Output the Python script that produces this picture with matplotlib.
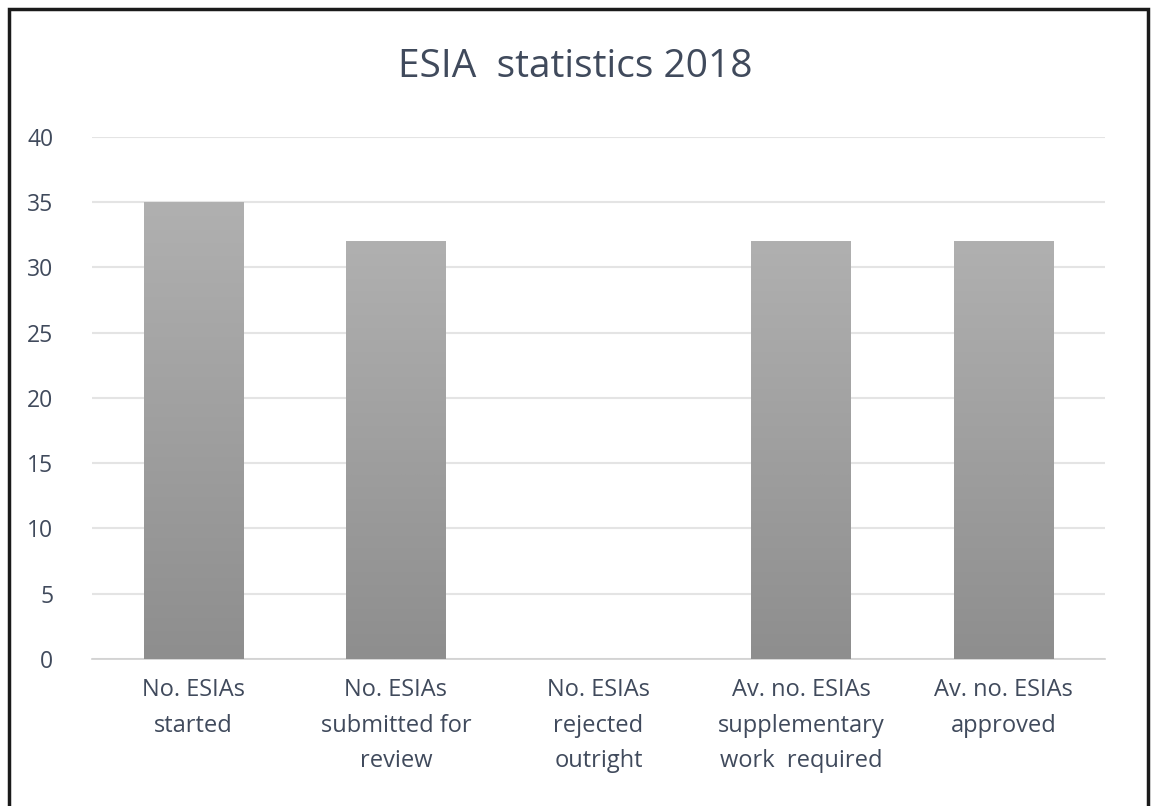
import matplotlib
matplotlib.use("Agg")
import matplotlib.pyplot as plt
import numpy as np
from matplotlib.patches import Rectangle
from matplotlib.colors import LinearSegmentedColormap

categories = ["No. ESIAs\nstarted", "No. ESIAs\nsubmitted for\nreview", "No. ESIAs\nrejected\noutright",
              "Av. no. ESIAs\nsupplementary\nwork  required", "Av. no. ESIAs\napproved"]
values = [35, 32, 0, 32, 32]
yticks = [0, 5, 10, 15, 20, 25, 30, 35, 40]
title = "ESIA  statistics 2018"

plt.rcParams['font.family'] = ['Open Sans', 'DejaVu Sans']
txt = '#404a5c'

fig = plt.figure(figsize=(11.51, 8.06), dpi=100)
ax = fig.add_axes([0.080, 0.1824, 0.880, 0.6477])

x = np.arange(len(categories))
bars = ax.bar(x, values, width=0.49, color='#9e9e9e', zorder=2)
grad = np.linspace(0, 1, 256).reshape(-1, 1)
cmap = LinearSegmentedColormap.from_list('g', ['#8e8e8e', '#b0b0b0'])
for b in bars:
    if b.get_height() <= 0:
        continue
    x0, w, h = b.get_x(), b.get_width(), b.get_height()
    im = ax.imshow(grad, extent=[x0, x0 + w, 0, h], origin='lower', cmap=cmap,
                   aspect='auto', zorder=3)
    im.set_clip_path(b)

ax.set_xlim(-0.5, len(categories) - 0.5)
ax.set_ylim(0, 40)
ax.set_yticks(yticks)
ax.set_xticks(x)
ax.set_xticklabels(categories, fontsize=17, color=txt, linespacing=1.62)
ax.tick_params(axis='y', length=0, labelsize=16.5, labelcolor=txt, pad=28)
ax.tick_params(axis='x', length=0, pad=14)
ax.grid(axis='y', color='#e4e4e4', linewidth=1.5, zorder=0)
for s in ['top', 'right', 'left']:
    ax.spines[s].set_visible(False)
ax.spines['bottom'].set_color('#d0d0d0')
ax.spines['bottom'].set_linewidth(1.2)

fig.text(0.4995, 0.917, title, ha='center', va='center', fontsize=28, color=txt,
         family=['Liberation Sans Narrow', 'Open Sans', 'DejaVu Sans'])

fig.add_artist(Rectangle((9/1151, -0.05), (1148-9)/1151, 1.05 - 9/806, transform=fig.transFigure,
                         fill=False, edgecolor='#1a1a1a', linewidth=2.5))

fig.savefig('out.png', dpi=100)
